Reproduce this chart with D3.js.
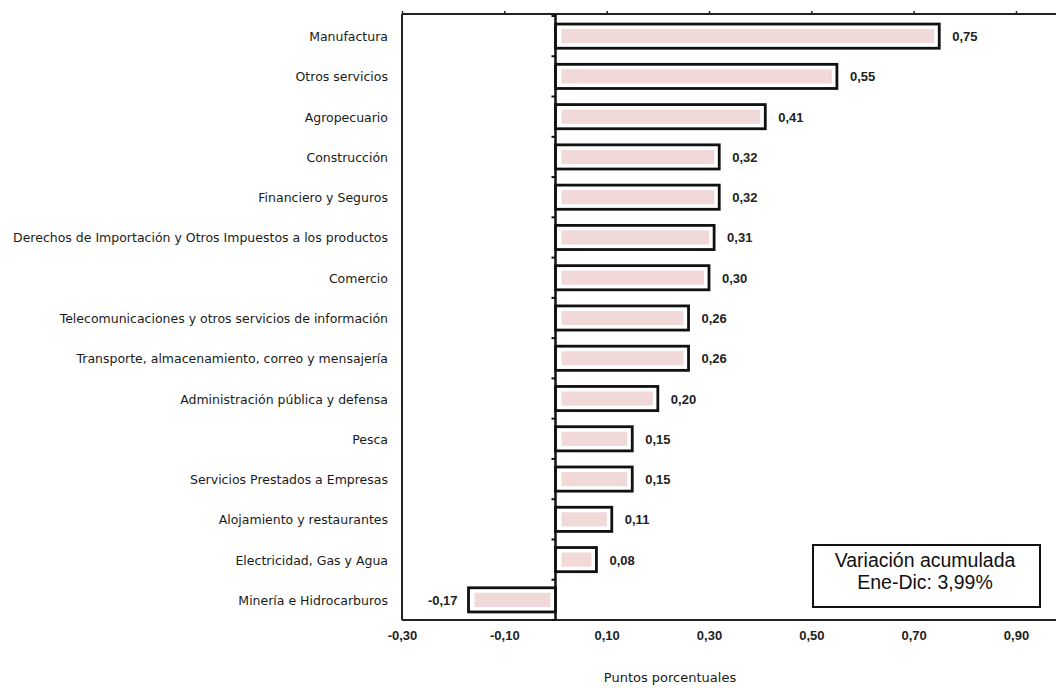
<!DOCTYPE html>
<html>
<head>
<meta charset="utf-8">
<script src="https://cdn.jsdelivr.net/npm/d3@7/dist/d3.min.js"></script>
<style>
  body { margin: 0; background: #fff; }
  svg { display: block; font-family: "DejaVu Sans", Verdana, sans-serif; }
</style>
</head>
<body>
<svg id="chart" width="1056" height="688"></svg>
<script>
// Contribución por actividad económica (puntos porcentuales)
const categories = [
  "Manufactura",
  "Otros servicios",
  "Agropecuario",
  "Construcción",
  "Financiero y Seguros",
  "Derechos de Importación y Otros Impuestos a los productos",
  "Comercio",
  "Telecomunicaciones y otros servicios de información",
  "Transporte, almacenamiento, correo y mensajería",
  "Administración pública y defensa",
  "Pesca",
  "Servicios Prestados a Empresas",
  "Alojamiento y restaurantes",
  "Electricidad, Gas y Agua",
  "Minería e Hidrocarburos"
];
const values = [0.75, 0.55, 0.41, 0.32, 0.32, 0.31, 0.30, 0.26, 0.26, 0.20, 0.15, 0.15, 0.11, 0.08, -0.17];
const tickValues = [-0.30, -0.10, 0.10, 0.30, 0.50, 0.70, 0.90];
const xTitle = "Puntos porcentuales";
const boxLines = ["Variación acumulada", "Ene-Dic: 3,99%"];

const fmt = v => d3.format(".2f")(v).replace(".", ",").replace("−", "-");
const numFont = "'Liberation Sans', Arial, sans-serif";

const svg = d3.select("#chart");
const plotL = 402, plotR = 1060, plotT = 14, plotB = 620;

const x = d3.scaleLinear().domain([-0.30, 0.986]).range([plotL, plotR]);
const y = d3.scaleBand().domain(categories).range([plotT + 2, plotB]).paddingInner(0.4).paddingOuter(0.2);

// plot frame (top, left, bottom)
const frame = svg.append("g").attr("stroke", "#222").attr("fill", "none");
frame.append("line").attr("x1", plotL).attr("x2", 1056).attr("y1", plotT).attr("y2", plotT).attr("stroke-width", 2);
frame.append("line").attr("x1", plotL).attr("x2", plotL).attr("y1", plotT).attr("y2", plotB).attr("stroke-width", 2);
frame.append("line").attr("x1", plotL).attr("x2", 1056).attr("y1", plotB).attr("y2", plotB).attr("stroke-width", 2);

// top axis: small tick marks only
const topAxis = svg.append("g")
  .attr("transform", `translate(0,${plotT})`)
  .call(d3.axisTop(x).tickValues(tickValues).tickSize(3).tickFormat(""));
topAxis.select(".domain").remove();
topAxis.selectAll("line").attr("stroke", "#222").attr("stroke-width", 1.5);

// bottom axis labels
const botAxis = svg.append("g")
  .attr("transform", `translate(0,${plotB})`)
  .call(d3.axisBottom(x).tickValues(tickValues).tickSize(0).tickPadding(11).tickFormat(fmt));
botAxis.select(".domain").remove();
botAxis.selectAll("text")
  .attr("font-size", 13).attr("font-weight", "bold").attr("fill", "#222")
  .attr("font-family", numFont);

// category boundaries for the zero-line ticks
const gap = y.step() * y.paddingInner() / 2;
const boundaries = categories.map(c => y(c) - gap).concat([y(categories[categories.length - 1]) + y.bandwidth() + gap]);

// bars: black outlined box with pink inner fill
const bars = svg.append("g");
categories.forEach((c, i) => {
  const v = values[i];
  const x0 = x(Math.min(0, v)), x1 = x(Math.max(0, v));
  const yy = y(c), h = y.bandwidth();
  bars.append("rect")
    .attr("x", x0).attr("y", yy).attr("width", x1 - x0).attr("height", h)
    .attr("fill", "#fff").attr("stroke", "#111").attr("stroke-width", 2.8);
  bars.append("rect")
    .attr("x", x0 + 6).attr("y", yy + 5).attr("width", Math.max(0, x1 - x0 - 11)).attr("height", h - 10)
    .attr("fill", "#f1d9da");
  bars.append("text")
    .attr("x", v >= 0 ? x1 + 13 : x0 - 11)
    .attr("y", yy + h / 2 + 5)
    .attr("text-anchor", v >= 0 ? "start" : "end")
    .attr("font-family", numFont)
    .attr("font-size", 13).attr("font-weight", "bold").attr("fill", "#222")
    .text(fmt(v));
});

// zero line with small ticks on its left side
svg.append("line")
  .attr("x1", x(0)).attr("x2", x(0)).attr("y1", plotT).attr("y2", plotB)
  .attr("stroke", "#111").attr("stroke-width", 2.5);
svg.append("g").selectAll("line").data(boundaries).join("line")
  .attr("x1", x(0) - 4).attr("x2", x(0)).attr("y1", d => d).attr("y2", d => d)
  .attr("stroke", "#111").attr("stroke-width", 2);

// category labels
svg.append("g").selectAll("text").data(categories).join("text")
  .attr("x", 388)
  .attr("y", d => y(d) + y.bandwidth() / 2 + 5)
  .attr("text-anchor", "end")
  .attr("font-size", 12.5).attr("fill", "#1a1a1a")
  .text(d => d);

// axis title
svg.append("text")
  .attr("x", 670).attr("y", 682)
  .attr("text-anchor", "middle")
  .attr("font-size", 13).attr("fill", "#1a1a1a")
  .text(xTitle);

// annotation box
svg.append("rect")
  .attr("x", 813).attr("y", 545).attr("width", 227).attr("height", 62)
  .attr("fill", "#fff").attr("stroke", "#111").attr("stroke-width", 2);
svg.append("g").selectAll("text").data(boxLines).join("text")
  .attr("x", 925)
  .attr("y", (d, i) => 567 + i * 22)
  .attr("text-anchor", "middle")
  .attr("font-family", numFont)
  .attr("font-size", 19.5).attr("fill", "#111")
  .text(d => d);
</script>
</body>
</html>
